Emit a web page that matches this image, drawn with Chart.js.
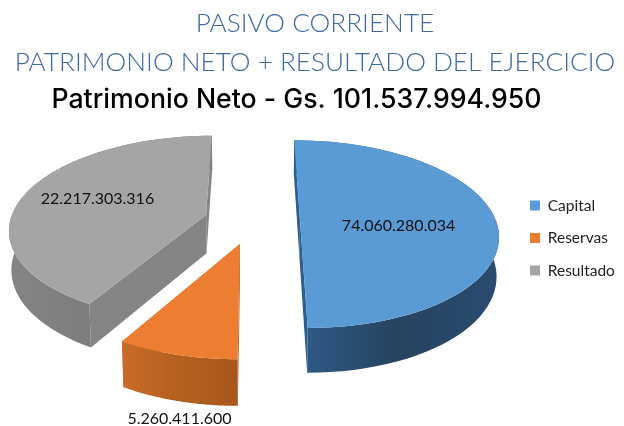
<!DOCTYPE html>
<html>
<head>
<meta charset="utf-8">
<script src="https://cdn.jsdelivr.net/npm/chart.js@4"></script>
<style>
    html, body { margin: 0; padding: 0; background: #fff; }
    canvas { display: block; }
</style>
</head>
<body>
<canvas id="pieChart" width="624" height="426"></canvas>
<script>
const categories = ['Capital', 'Reservas', 'Resultado'];
// Slice sizes as drawn in the picture (% of the circle). They do not follow the
// printed amounts below: the source drew Capital as about half the pie, not 73%.
const drawnShares = [50, 8.33, 41.67];
const printedAmounts = ['74.060.280.034', '5.260.411.600', '22.217.303.316'];
const titleLines = ['PASIVO CORRIENTE', 'PATRIMONIO NETO + RESULTADO DEL EJERCICIO'];
const subtitleText = 'Patrimonio Neto - Gs. 101.537.994.950';

const topColors = ['#5b9bd5', '#ed7d31', '#a5a5a5'];
const wallColors = [
    ['#2f5d8c', '#27435f', '#2a4c70'],
    ['#c96b2a', '#b4601f', '#a8571d'],
    ['#858585', '#7b7b7b', '#808080']
];
const explodePercent = [24, 25, 25];
// where each amount sits: distance from the slice centre, and how far across the slice
const labelRadius = [0.5, 1.43, 0.61];
const labelSweep = [0.53, 0.3, 0.52];

// Projection of the flat pie into the tilted 3D view
const view = { cx: 253, cy: 221, sx: 196, sy: 92, persp: 0.14, depth: 38.5, shrink: 0.01 };

function project(wx, wy, lowered) {
    const p = 1 / (1 - view.persp * wy);
    let x = view.cx + view.sx * wx * p;
    const y = view.cy + view.sy * wy * p + (lowered ? view.depth * p : 0);
    if (lowered) x = view.cx + (x - view.cx) * (1 - view.shrink);
    return [x, y];
}

function fillPolygon(ctx, points, style) {
    ctx.beginPath();
    points.forEach((pt, i) => i ? ctx.lineTo(pt[0], pt[1]) : ctx.moveTo(pt[0], pt[1]));
    ctx.closePath();
    ctx.fillStyle = style;
    ctx.fill();
}

function sliceCentre(arc) {
    const mid = (arc.startAngle + arc.endAngle) / 2;
    const off = (arc.options.offset || 0) / 100;
    return [Math.cos(mid) * off, Math.sin(mid) * off];
}

function drawSlice(ctx, arc, index) {
    const [ox, oy] = sliceCentre(arc);
    const rim = [];
    const steps = 60;
    for (let i = 0; i <= steps; i++) {
        const a = arc.startAngle + (arc.endAngle - arc.startAngle) * i / steps;
        rim.push([ox + Math.cos(a), oy + Math.sin(a)]);
    }
    const topRim = rim.map(r => project(r[0], r[1], false));
    const lowRim = rim.map(r => project(r[0], r[1], true));
    const apexTop = project(ox, oy, false);
    const apexLow = project(ox, oy, true);

    const xs = topRim.map(p => p[0]);
    const grad = ctx.createLinearGradient(Math.min(...xs), 0, Math.max(...xs), 0);
    wallColors[index].forEach((c, i) => grad.addColorStop(i / 2, c));

    // radial walls, then the curved wall, then the top face over them
    fillPolygon(ctx, [apexTop, topRim[0], lowRim[0], apexLow], wallColors[index][0]);
    fillPolygon(ctx, [apexTop, topRim[steps], lowRim[steps], apexLow], wallColors[index][0]);
    fillPolygon(ctx, topRim.concat(lowRim.slice().reverse()), grad);
    fillPolygon(ctx, [apexTop].concat(topRim), topColors[index]);
}

const pie3d = {
    id: 'pie3d',
    afterLayout(chart) {
        // the legend sits lower and further right than Chart.js would place it
        chart.legend.top += 40;
        chart.legend.bottom += 40;
        chart.legend.left = 513;
    },
    beforeDatasetsDraw(chart) {
        const ctx = chart.ctx;
        const arcs = chart.getDatasetMeta(0).data;
        ctx.save();
        [2, 0, 1].forEach(i => drawSlice(ctx, arcs[i], i));

        ctx.fillStyle = '#111';
        ctx.font = '16px Lato';
        ctx.textAlign = 'center';
        ctx.textBaseline = 'middle';
        arcs.forEach((arc, i) => {
            const [ox, oy] = sliceCentre(arc);
            const a = arc.startAngle + (arc.endAngle - arc.startAngle) * labelSweep[i];
            const pos = project(ox + Math.cos(a) * labelRadius[i], oy + Math.sin(a) * labelRadius[i], false);
            ctx.fillText(printedAmounts[i], pos[0], pos[1]);
        });
        ctx.restore();
        return false;
    },
    afterDraw(chart) {
        const ctx = chart.ctx;
        ctx.save();
        ctx.fillStyle = '#000';
        ctx.font = '500 26.7px Inter';
        ctx.textAlign = 'center';
        ctx.textBaseline = 'middle';
        ctx.fillText(subtitleText, 296.5, 100);
        ctx.restore();
    }
};

new Chart(document.getElementById('pieChart'), {
    type: 'pie',
    data: {
        labels: categories,
        datasets: [{ data: drawnShares, backgroundColor: topColors, offset: explodePercent, borderWidth: 0 }]
    },
    plugins: [pie3d],
    options: {
        responsive: false,
        animation: false,
        layout: { padding: { top: 2, right: 0, bottom: 32, left: 6 } },
        plugins: {
            tooltip: { enabled: false },
            title: {
                display: true,
                text: titleLines,
                color: '#3c6aa8',
                font: { family: 'Lato', size: 26.2, weight: 300, lineHeight: 1.49 },
                padding: { top: 2, bottom: 36 }
            },
            legend: {
                position: 'right',
                labels: {
                    boxWidth: 10,
                    boxHeight: 10,
                    padding: 17,
                    color: '#222',
                    font: { family: 'Lato', size: 15.5 }
                }
            }
        }
    }
});
</script>
</body>
</html>
